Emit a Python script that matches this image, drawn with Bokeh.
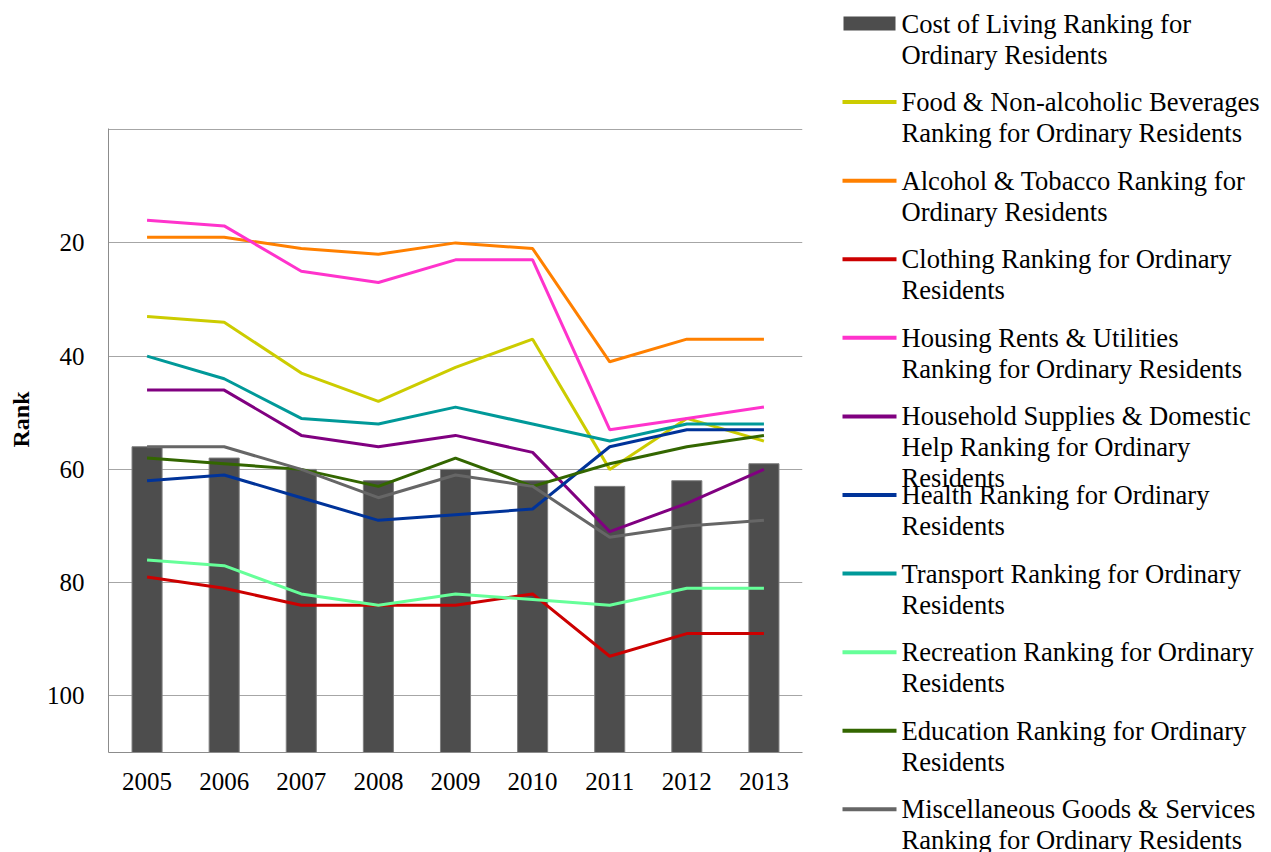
from bokeh.plotting import figure
from bokeh.layouts import row
from bokeh.models import Range1d, FactorRange, FixedTicker, ColumnDataSource
from bokeh.embed import file_html
from bokeh.resources import INLINE

years = ["2005", "2006", "2007", "2008", "2009", "2010", "2011", "2012", "2013"]
cost_of_living = [56, 58, 60, 62, 60, 62, 63, 62, 59]
food = [33, 34, 43, 48, 42, 37, 60, 51, 55]
alcohol = [19, 19, 21, 22, 20, 21, 41, 37, 37]
clothing = [79, 81, 84, 84, 84, 82, 93, 89, 89]
housing = [16, 17, 25, 27, 23, 23, 53, 51, 49]
household = [46, 46, 54, 56, 54, 57, 71, 66, 60]
health = [62, 61, 65, 69, 68, 67, 56, 53, 53]
transport = [40, 44, 51, 52, 49, 52, 55, 52, 52]
recreation = [76, 77, 82, 84, 82, 83, 84, 81, 81]
education = [58, 59, 60, 63, 58, 63, 59, 56, 54]
misc = [56, 56, 60, 65, 61, 63, 72, 70, 69]
y_ticks = [0, 20, 40, 60, 80, 100]

bar_label = ["Cost of Living Ranking for", "Ordinary Residents"]
line_series = [
    (food, "#CCCC00", ["Food & Non-alcoholic Beverages", "Ranking for Ordinary Residents"]),
    (alcohol, "#FF8000", ["Alcohol & Tobacco Ranking for", "Ordinary Residents"]),
    (clothing, "#CC0000", ["Clothing Ranking for Ordinary", "Residents"]),
    (housing, "#FF33CC", ["Housing Rents & Utilities", "Ranking for Ordinary Residents"]),
    (household, "#800080", ["Household Supplies & Domestic", "Help Ranking for Ordinary", "Residents"]),
    (health, "#003399", ["Health Ranking for Ordinary", "Residents"]),
    (transport, "#009999", ["Transport Ranking for Ordinary", "Residents"]),
    (recreation, "#66FF99", ["Recreation Ranking for Ordinary", "Residents"]),
    (education, "#336600", ["Education Ranking for Ordinary", "Residents"]),
    (misc, "#666666", ["Miscellaneous Goods & Services", "Ranking for Ordinary Residents"]),
]
BAR_COLOR = "#4D4D4D"
FONT = "Liberation Serif"

p = figure(width=818, height=852, x_range=FactorRange(*years), y_range=Range1d(110, -0.2),
           output_backend="svg", toolbar_location=None,
           min_border_left=108, min_border_right=16, min_border_top=128, min_border_bottom=100)
p.frame_align = False
p.outline_line_color = None
p.background_fill_color = "white"
p.border_fill_color = "white"

p.vbar(x=years, top=cost_of_living, bottom=110, width=0.39,
       fill_color=BAR_COLOR, line_color="#808080", line_width=1)
for vals, color, _ in line_series:
    p.line(x=years, y=vals, line_color=color, line_width=3)

p.xgrid.grid_line_color = None
p.ygrid.grid_line_color = "#A6A6A6"
p.ygrid.grid_line_width = 1
p.yaxis.ticker = FixedTicker(ticks=y_ticks)
p.yaxis.major_label_overrides = {0: ""}
p.yaxis.axis_label = "\u00a0" * 7 + "Rank"
p.yaxis.axis_label_text_font = FONT
p.yaxis.axis_label_text_font_style = "bold"
p.yaxis.axis_label_text_font_size = "24px"
p.yaxis.axis_label_text_color = "black"
p.yaxis.axis_label_standoff = 10
p.yaxis.major_label_standoff = 24
p.yaxis.major_tick_out = 0
p.yaxis.major_tick_in = 0
p.yaxis.minor_tick_line_color = None
for ax in (p.xaxis, p.yaxis):
    ax.axis_line_color = "#8C8C8C"
    ax.major_label_text_font = FONT
    ax.major_label_text_font_size = "25px"
    ax.major_label_text_color = "black"
p.xaxis.major_tick_line_color = None
p.xaxis.major_label_standoff = 14

# legend panel drawn in page-pixel coordinates
leg = figure(width=453, height=852, x_range=Range1d(818, 1271), y_range=Range1d(852, 0),
             output_backend="svg", toolbar_location=None, x_axis_type=None, y_axis_type=None,
             min_border=0)
leg.frame_align = False
leg.outline_line_color = None
leg.xgrid.visible = False
leg.ygrid.visible = False

step = 78.58
y0 = 23
tx, ty, tt = [], [], []
leg.quad(left=[843], right=[895], top=[y0 - 7], bottom=[y0 + 7], fill_color=BAR_COLOR, line_color=None)
for j, t in enumerate(bar_label):
    tx.append(901); ty.append(y0 + j * 31); tt.append(t)
for i, (_, color, lines) in enumerate(line_series, start=1):
    yc = y0 + i * step
    leg.line(x=[842, 896], y=[yc, yc], line_color=color, line_width=4)
    for j, t in enumerate(lines):
        tx.append(901); ty.append(yc + j * 31); tt.append(t)
src = ColumnDataSource(dict(x=tx, y=ty, t=tt))
leg.text(x="x", y="y", text="t", source=src, text_font_size="26.6px", text_color="black",
         text_baseline="middle", text_align="left", text_font={"value": FONT})

layout = row(p, leg, spacing=0)
open("out.html", "w").write(file_html(layout, INLINE))
